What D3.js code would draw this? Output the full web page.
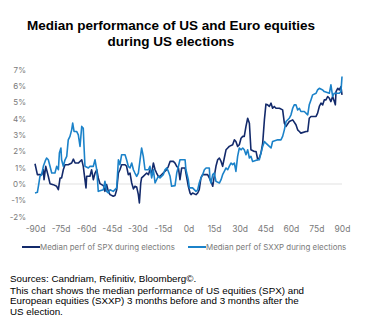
<!DOCTYPE html>
<html>
<head>
<meta charset="utf-8">
<script src="https://cdn.jsdelivr.net/npm/d3@7"></script>
<style>
  body { margin: 0; background: #fff; }
  svg { display: block; }
</style>
</head>
<body>
<script>
const width = 376, height = 325

// median performance (%) by day relative to the US election
const spx = [
  [-90, 1.24], [-88.6, 0.57], [-86.1, 0.57], [-85.1, 0.87], [-84.7, 0.26], [-83.7, 1.08],
  [-82.2, 0.47], [-81.2, 0.02], [-79.3, -0.04], [-77.3, -0.14], [-76.3, -0.35], [-75.3, 0.37],
  [-74.4, 0.37], [-73.4, 0.87], [-72.4, 1.18], [-70.5, 1.18], [-68.5, 1.28], [-67.5, 1.52],
  [-66.5, 1.28], [-64.6, 1.28], [-62.6, 1.48], [-61.7, 1.08], [-60.1, -0.24], [-59.7, 0.47],
  [-57.8, 0.47], [-56.8, 0.87], [-55.8, 0.26], [-54.8, 0.67], [-53.8, 0.87], [-52.9, 0.37],
  [-51.9, 0.02], [-49.9, -0.10], [-49.0, -0.45], [-48.0, -0.04], [-47.0, -0.45], [-46.0, -0.65],
  [-44.1, -0.75], [-43.1, -0.71], [-42.1, -0.35], [-41.1, 0.67], [-40.2, 0.87], [-39.2, 1.18],
  [-37.2, 1.18], [-36.3, 1.08], [-35.3, 0.57], [-34.3, 0.67], [-33.3, 0.06], [-32.3, -0.30],
  [-31.4, -0.14], [-30.4, -0.18], [-29.4, -0.65], [-28.8, -1.16], [-28.0, 0.06], [-27.5, 0.37],
  [-26.5, 0.47], [-24.5, 0.67], [-23.5, 0.57], [-22.6, 0.87], [-21.6, 0.67], [-20.6, 1.28],
  [-19.6, 0.87], [-18.7, 0.67], [-17.7, 0.47], [-16.7, 0.47], [-14.8, 0.67], [-12.8, 0.87],
  [-11.8, 1.08], [-10.8, 1.38], [-8.9, 1.38], [-7.9, 1.28], [-6.9, 1.08], [-5.9, 0.98],
  [-5.0, 0.26], [-4.0, 0.98], [-2.0, 0.98], [-1.5, 0.67], [-0.1, -0.14], [0.9, -0.55],
  [1.5, -0.65], [2.4, -0.55], [4.4, -0.65], [5.4, -0.55], [6.3, -0.35], [7.3, 0.37],
  [8.3, 0.57], [11.2, 0.57], [12.2, 0.37], [13.2, 0.16], [14.2, -0.14], [15.1, 0.47],
  [16.1, 1.08], [17.1, 1.48], [18.1, 1.59], [19.1, 1.38], [20.0, 1.08], [21.0, 1.59],
  [22.0, 2.09], [23.0, 2.20], [23.9, 2.30], [25.9, 2.40], [26.9, 2.70], [27.8, 2.60],
  [28.8, 2.30], [29.8, 2.40], [30.8, 2.80], [31.8, 2.91], [32.7, 2.91], [33.7, 3.52],
  [34.7, 4.02], [35.7, 3.72], [36.6, 2.09], [38.6, 1.99], [39.6, 1.99], [40.6, 1.48],
  [41.5, 1.59], [42.5, 1.89], [43.5, 2.50], [44.5, 3.92], [45.4, 4.88], [46.4, 4.84],
  [47.4, 4.74], [48.4, 4.94], [49.3, 4.63], [50.3, 4.74], [51.3, 4.63], [53.3, 4.63],
  [55.2, 4.53], [56.2, 3.72], [57.2, 3.52], [59.1, 3.82], [61.1, 3.92], [63.0, 3.62],
  [64.0, 3.31], [65.0, 3.21], [65.9, 3.11], [68.9, 3.21], [69.9, 3.21], [70.8, 4.02],
  [71.8, 4.13], [74.8, 4.13], [75.7, 4.33], [76.7, 4.74], [77.7, 4.94], [78.7, 4.84],
  [79.6, 5.14], [80.6, 5.14], [81.6, 5.35], [82.6, 5.24], [83.5, 5.04], [84.5, 5.35],
  [85.5, 5.04], [86.1, 4.84], [86.5, 5.65], [87.5, 5.85], [88.4, 5.75], [89.4, 5.96],
  [90, 5.45]
]

const sxxp = [
  [-90, -0.55], [-88.6, -0.51], [-87.7, 0.06], [-87.1, 0.47], [-86.1, 0.57], [-85.1, 1.08],
  [-84.1, 1.38], [-83.2, 1.59], [-82.2, 1.48], [-81.2, 1.08], [-80.2, 0.67], [-78.3, 0.67],
  [-77.3, 1.08], [-76.3, 0.87], [-75.7, 1.89], [-74.8, 2.20], [-74.4, 1.48], [-73.4, 1.08],
  [-72.4, 1.48], [-71.4, 1.69], [-70.5, 2.70], [-69.5, 2.91], [-68.5, 3.31], [-67.9, 3.72],
  [-67.1, 3.21], [-65.6, 3.21], [-64.6, 3.01], [-63.6, 2.30], [-62.6, 3.52], [-61.7, 3.41],
  [-61.3, 2.40], [-60.7, 1.08], [-58.7, 0.98], [-57.8, 1.08], [-55.8, 1.08], [-54.8, 1.48],
  [-53.8, 0.87], [-52.9, -0.45], [-49.9, -0.35], [-49.0, 0.16], [-48.0, -0.45], [-47.0, -0.55],
  [-46.0, -0.35], [-44.1, -0.45], [-42.1, -0.24], [-41.1, 1.48], [-40.2, 1.18], [-39.2, 1.79],
  [-37.2, 1.79], [-36.3, 1.48], [-35.3, 1.08], [-34.3, 0.98], [-33.3, 1.28], [-32.3, 0.87],
  [-31.4, 0.67], [-30.4, 0.47], [-29.4, 0.67], [-28.4, 1.48], [-27.5, 2.20], [-26.5, 1.69],
  [-25.5, 0.87], [-23.5, 0.87], [-22.6, 1.08], [-21.6, 0.37], [-20.6, 0.87], [-19.6, 0.06],
  [-18.7, 0.26], [-17.7, 0.47], [-16.7, 0.37], [-14.8, 0.57], [-13.8, 0.87], [-12.8, 0.98],
  [-11.8, 0.77], [-10.8, 0.47], [-9.9, -0.14], [-7.9, -0.10], [-6.9, 0.67], [-5.9, 1.08],
  [-5.0, 1.48], [-2.0, 1.48], [-1.5, 0.87], [-0.1, 0.26], [0.5, -0.24], [2.4, -0.24],
  [4.4, -0.45], [5.4, -0.35], [6.3, 0.06], [7.3, 0.37], [8.3, 0.57], [9.3, 0.87],
  [10.3, 0.98], [12.2, 0.98], [12.6, 0.26], [13.2, 0.06], [14.2, 0.57], [15.1, 0.67],
  [16.1, 0.16], [18.1, 0.06], [19.1, 0.26], [20.0, 0.57], [21.0, 0.77], [22.0, 0.98],
  [23.0, 0.87], [23.9, 1.08], [24.9, 1.28], [25.9, 1.18], [26.9, 1.28], [27.8, 0.77],
  [28.8, 1.69], [29.8, 2.20], [30.8, 2.09], [31.8, 2.20], [32.7, 2.09], [33.7, 1.79],
  [34.7, 2.09], [35.7, 1.59], [36.6, 1.69], [37.6, 1.38], [40.6, 1.48], [41.5, 1.48],
  [42.5, 1.89], [43.5, 2.30], [44.5, 2.60], [45.4, 2.50], [47.4, 2.30], [48.4, 2.20],
  [49.3, 2.60], [52.3, 2.70], [54.2, 2.70], [55.2, 2.91], [56.2, 3.31], [57.2, 3.82],
  [59.1, 4.02], [60.1, 4.23], [61.1, 4.63], [62.0, 4.84], [63.0, 4.84], [64.0, 4.53],
  [65.0, 4.63], [65.9, 4.43], [67.9, 4.43], [69.9, 4.23], [70.8, 4.84], [71.8, 5.14],
  [72.8, 5.45], [74.8, 5.55], [75.7, 5.75], [76.7, 5.85], [78.7, 5.75], [79.6, 5.65],
  [82.6, 5.55], [83.5, 6.06], [84.5, 5.35], [85.5, 5.55], [88.4, 5.55], [89.4, 5.65],
  [90, 6.57]
]

const xTicks = [-90, -75, -60, -45, -30, -15, 0, 15, 30, 45, 60, 75, 90]
const yTicks = [-2, -1, 0, 1, 2, 3, 4, 5, 6, 7]

const series = [
  { name: "Median perf of SPX during elections", values: spx, color: "#132a6b" },
  { name: "Median perf of SXXP during elections", values: sxxp, color: "#1b82c9" }
]

const titleLines = ["Median performance of US and Euro equities", "during US elections"]
const noteLines = [
  "Sources: Candriam, Refinitiv, Bloomberg\u00A9.",
  "This chart shows the median performance of US equities (SPX) and",
  "European equities (SXXP) 3 months before and 3 months after the",
  "US election."
]

let svg = d3.select("body")
    .append("svg")
    .attr("width", width)
    .attr("height", height)

// title
svg.append("text")
    .attr("text-anchor", "middle")
    .attr("font-family", "Liberation Sans, Arial, sans-serif")
    .attr("font-weight", "bold")
    .attr("font-size", 13.5)
    .attr("fill", "#000")
    .selectAll("tspan")
    .data(titleLines)
    .join("tspan")
    .attr("x", 171)
    .attr("y", (d, i) => 30 + i * 15.5)
    .text(d => d)

const x = d3.scaleLinear().domain([-90, 90]).range([35, 342])
const y = d3.scaleLinear().domain([-2, 7]).range([216.7, 69.5])

// y labels
let yAxis = svg.append("g")
    .attr("transform", "translate(26,0)")
    .call(d3.axisLeft(y).tickValues(yTicks).tickSize(0).tickPadding(0).tickFormat(d => d + "%"))
yAxis.select(".domain").remove()
yAxis.selectAll("text")
    .attr("font-family", "Inter, sans-serif")
    .attr("font-size", 8)
    .attr("fill", "#7a7a7a")

// zero line
svg.append("line")
    .attr("x1", x(-90)).attr("x2", x(90))
    .attr("y1", y(0)).attr("y2", y(0))
    .attr("stroke", "#ebebeb")
    .attr("stroke-width", 1.5)

// x labels
let xAxis = svg.append("g")
    .attr("transform", "translate(0,226)")
    .call(d3.axisBottom(x).tickValues(xTicks).tickSize(0).tickPadding(0).tickFormat(d => d + "d"))
xAxis.select(".domain").remove()
xAxis.selectAll("text")
    .attr("font-family", "Inter, sans-serif")
    .attr("font-size", 8.5)
    .attr("fill", "#7a7a7a")

const line = d3.line()
    .x(d => x(d[0]))
    .y(d => y(d[1]))

svg.selectAll("path.series")
    .data(series)
    .join("path")
    .attr("class", "series")
    .attr("d", d => line(d.values))
    .attr("fill", "none")
    .attr("stroke", d => d.color)
    .attr("stroke-width", 1.6)
    .attr("stroke-linejoin", "round")

// legend
const legendX = [22, 188]
let legend = svg.selectAll("g.legend")
    .data(series)
    .join("g")
    .attr("class", "legend")
    .attr("transform", (d, i) => "translate(" + legendX[i] + ",247)")
legend.append("line")
    .attr("x1", 0).attr("x2", 18)
    .attr("stroke", d => d.color)
    .attr("stroke-width", 2)
legend.append("text")
    .attr("x", 18)
    .attr("y", 2.8)
    .attr("font-family", "Inter, sans-serif")
    .attr("font-size", 7.9)
    .attr("fill", "#7a7a7a")
    .text(d => d.name)

// source note
svg.append("text")
    .attr("font-family", "Liberation Sans, Arial, sans-serif")
    .attr("font-size", 9.8)
    .attr("fill", "#000")
    .selectAll("tspan")
    .data(noteLines)
    .join("tspan")
    .attr("x", 10)
    .attr("y", (d, i) => i == 0 ? 282 : 294 + (i - 1) * 10.4)
    .text(d => d)
</script>
</body>
</html>
